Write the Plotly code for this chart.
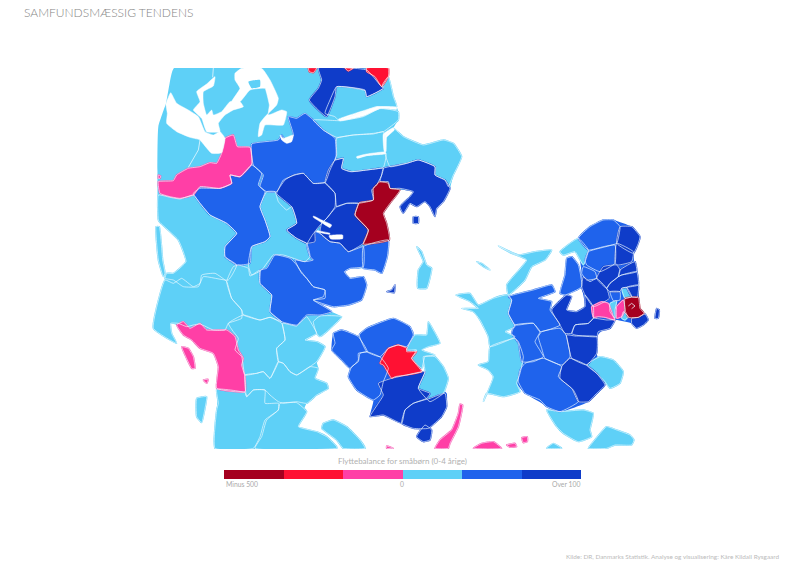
import plotly.graph_objects as go

# Map outlines. Each group is in map units of one sheet.
SHEET_ORIGINS = {"north": (150, 60), "south": (150, 240), "east": (450, 210)}

# Whole land masses, painted first
JUTLAND_LAND = [[(72,24),(715,24),(715,50),(730,110),(745,155),(745,180),(730,205),(760,230),(820,255),(880,240),(910,250),(935,290),(910,345),(900,385),(880,425),(860,445),(855,470),(840,440),(825,425),(800,440),(780,430),(760,460),(750,440),(780,410),(790,395),(750,390),(720,430),(700,460),(718,540),(715,540),(712,590),(695,640),(675,630),(640,625),(600,625),(583,635),(600,655),(640,650),(650,675),(635,720),(595,735),(550,740),(490,720),(545,755),(575,770),(530,815),(500,820),(465,840),(500,845),(525,860),(500,905),(505,925),(495,955),(530,970),(535,985),(500,1005),(470,1030),(445,1100),(500,1115),(560,1160),(560,1165),(195,1165),(200,1050),(205,990),(200,985),(205,920),(190,880),(150,865),(125,840),(100,825),(80,795),(62,790),(65,820),(80,850),(10,805),(45,660),(50,640),(70,640),(108,605),(85,540),(30,488),(25,480),(25,200),(48,130),(58,75)]]
FUNEN_LAND = [[(550,280),(575,270),(625,290),(650,265),(730,235),(790,275),(770,325),(800,335),(815,395),(890,460),(890,500),(875,530),(835,565),(790,565),(755,550),(700,525),(660,530),(670,480),(620,450),(595,410),(600,385),(575,360),(545,330)]]
ZEALAND_LAND = [[(395,190),(385,85),(420,50),(460,30),(490,30),(545,50),(570,80),(550,130),(565,225),(570,295),(595,330),(560,355),(545,340),(495,330),(440,380),(440,430),(465,525),(415,575),(330,605),(225,550),(200,520),(220,440),(195,350),(175,310),(185,270),(250,240),(305,225),(315,245),(265,265),(305,275),(300,300),(350,255),(365,260),(350,300),(380,305),(405,290),(395,230)]]

# Fjords and lakes, cut out of the land
WATER_NORTH = [
    [(48,132),(62,98),(80,130),(115,150),(145,170),(165,215),(190,225),(210,215),(225,235),(215,278),(185,280),(150,240),(145,238),(120,232),(80,215),(50,190),(52,160)],
    [(130,150),(150,125),(140,95),(170,72),(195,50),(190,78),(160,95),(160,130),(170,165),(185,150),(190,165),(215,155),(240,125),(270,125),(280,140),(250,150),(225,165),(205,190),(210,215),(170,215),(155,175)],
    [(255,40),(275,25),(335,25),(360,60),(385,115),(380,135),(345,170),(330,190),(325,230),(335,225),(345,195),(400,195),(410,155),(395,150),(355,165),(358,135),(350,100),(345,85),(300,90),(270,125),(245,125),(270,85),(255,60)],
    [(390,225),(400,235),(430,225),(425,245),(410,250),(395,240)],
    [(565,178),(640,152),(680,140),(740,142),(740,148),(690,146),(640,168),(570,183)],
    [(620,290),(650,282),(705,276),(708,281),(650,287),(622,295)],
    [(700,222),(730,203),(733,210),(710,232),(708,275),(703,275)],
    [(490,468),(515,480),(545,495),(540,503),(515,488),(490,472)],
    [(537,527),(578,525),(578,536),(542,537)],
    [(500,512),(540,520),(540,523),(500,515)],
]
ISLET_NORTH = [[(295,65),(330,60),(330,80),(305,85)]]
INNER_BORDERS = [[(150,240),(145,270),(115,322)], [(190,24),(188,52)]]

LIGHT_NORTH = [
    [(715,50),(730,110),(740,140),(680,140),(640,155),(600,170),(565,180),(555,170),(525,160),(540,120),(560,80),(645,92),(650,110),(700,85),(697,75)],
    [(570,182),(640,170),(690,145),(745,155),(745,180),(700,215),(670,220),(610,225),(560,232),(520,210),(490,180)],
    [(560,235),(610,225),(670,222),(700,215),(705,275),(650,285),(620,292),(708,280),(700,322),(650,330),(600,335),(575,325),(580,295),(555,300),(560,285)],
    [(730,205),(760,230),(820,255),(880,240),(910,250),(935,290),(910,345),(895,380),(885,360),(855,345),(855,320),(805,300),(770,310),(720,320),(705,280),(705,230)],
    [(25,405),(60,412),(90,417),(130,405),(150,430),(180,465),(230,490),(260,520),(225,560),(225,590),(260,615),(235,660),(160,650),(145,680),(100,680),(70,660),(45,655),(50,640),(70,640),(108,605),(85,540),(30,488),(25,480)],
    [(18,500),(28,500),(38,600),(45,640),(40,650),(25,600)],
    [(375,395),(385,425),(410,450),(425,440),(440,490),(410,510),(440,535),(470,550),(480,590),(465,605),(400,585),(370,585),(335,630),(305,645),(295,615),(305,560),(345,545),(360,530),(345,480),(330,440),(350,395)],
]
LIGHT_SOUTH = [
    [(230,125),(245,175),(275,210),(275,235),(235,250),(225,270),(190,270),(150,252),(130,255),(110,260),(85,250),(62,250),(65,280),(80,310),(10,265),(45,120),(70,130),(95,115),(130,140),(150,130),(155,105),(195,100)],
    [(230,125),(250,80),(265,75),(295,85),(300,108),(330,90),(330,130),(365,165),(360,215),(395,245),(360,232),(330,240),(280,225),(275,210),(245,175)],
    [(235,250),(280,225),(330,240),(360,232),(395,250),(405,300),(380,325),(385,365),(360,415),(340,395),(320,400),(285,405),(275,350),(255,330),(265,295),(250,275)],
    [(398,250),(440,258),(470,230),(490,260),(500,280),(465,300),(500,305),(525,320),(500,365),(480,380),(440,405),(420,395),(400,370),(385,365),(380,325),(405,300)],
    [(490,245),(510,228),(575,230),(530,275),(510,290),(500,280)],
    [(285,405),(320,400),(340,395),(360,415),(385,365),(400,370),(420,395),(440,405),(480,380),(505,385),(495,415),(530,430),(535,445),(500,465),(470,490),(440,485),(400,490),(385,485),(360,465),(345,450),(310,450),(290,470)],
    [(140,475),(170,470),(165,505),(155,548),(140,530)],
    [(200,448),(285,458),(290,470),(310,450),(345,450),(345,490),(385,490),(385,510),(345,540),(330,590),(310,625),(195,625),(200,510),(205,490)],
    [(390,490),(440,488),(470,515),(445,560),(500,575),(530,590),(560,620),(560,625),(315,625),(335,590),(350,540),(385,510)],
    [(520,550),(550,540),(590,560),(630,600),(645,625),(580,625),(560,600),(515,565)],
    [(835,245),(850,270),(870,310),(835,320),(815,330),(855,345),(825,350),(815,385),(785,355),(800,330),(770,330),(795,285),(830,285)],
    [(855,350),(880,380),(895,415),(880,460),(840,485),(805,445),(825,395),(820,350)],
    [(800,20),(815,35),(830,75),(845,85),(830,145),(803,145),(805,90),(820,65)],
]
LIGHT_EAST = [
    [(18,255),(60,250),(85,285),(130,265),(165,255),(175,255),(185,270),(175,310),(195,350),(165,365),(195,380),(120,410),(115,380),(90,330),(70,305),(35,295),(85,295),(60,275)],
    [(145,108),(205,135),(255,125),(305,120),(285,150),(245,170),(225,210),(175,255),(170,225),(185,205),(230,150),(185,130)],
    [(80,155),(95,160),(120,180),(100,170)],
    [(330,125),(385,85),(415,120),(400,165),(375,125),(340,135)],
    [(120,410),(195,385),(205,395),(220,440),(210,490),(200,520),(210,545),(160,560),(110,550),(100,575),(130,500),(115,480),(85,465),(115,455)],
    [(410,465),(450,440),(490,450),(520,485),(510,520),(480,535),(465,515),(440,490)],
    [(290,600),(330,605),(400,600),(430,610),(420,660),(425,680),(385,695),(340,670),(320,650)],
    [(415,715),(430,695),(470,650),(500,660),(540,675),(552,690),(545,705),(495,705),(470,715)],
    [(290,715),(310,700),(335,715)],
    [(480,280),(500,272),(495,300),(495,325),(480,305)],
    [(520,305),(535,320),(525,330),(515,325)],
    [(515,235),(530,232),(545,260),(525,265)],
]

MEDIUM_NORTH = [
    [(305,252),(385,240),(395,225),(410,245),(430,225),(415,170),(440,175),(465,160),(490,180),(520,210),(555,235),(558,290),(540,330),(525,368),(490,370),(460,340),(435,345),(400,360),(380,395),(350,395),(330,380),(340,345),(310,315)],
    [(130,400),(150,385),(210,385),(245,370),(240,345),(270,350),(305,315),(335,340),(325,375),(345,395),(330,440),(345,480),(360,530),(345,545),(305,560),(300,610),(260,615),(225,590),(225,560),(260,520),(230,490),(180,465),(150,430)],
]
MEDIUM_SOUTH = [
    [(470,15),(495,-25),(510,-20),(540,5),(570,10),(595,35),(640,20),(640,80),(600,85),(583,95),(600,115),(640,110),(650,135),(635,180),(595,195),(550,200),(490,180),(520,170),(525,150),(490,140),(470,115),(450,90),(435,60),(465,65),(490,60),(480,50)],
    [(640,20),(715,0),(712,50),(695,100),(675,90),(640,85)],
    [(375,45),(420,55),(440,75),(455,100),(470,115),(490,140),(525,150),(525,175),(490,180),(545,215),(510,225),(470,225),(440,255),(395,245),(360,215),(365,165),(330,130),(330,90),(350,85)],
    [(628,285),(650,265),(730,235),(780,260),(790,285),(770,320),(745,315),(715,325),(690,350),(650,335)],
    [(550,280),(575,270),(625,290),(652,335),(625,340),(625,360),(600,385),(575,360),(545,330),(555,310)],
    [(630,340),(650,335),(692,352),(715,385),(700,425),(690,465),(670,480),(620,450),(595,410),(605,380),(625,365)],
]
MEDIUM_EAST = [
    [(175,260),(250,240),(305,225),(315,245),(265,265),(305,275),(300,300),(330,345),(270,365),(250,340),(195,345),(175,310),(185,270)],
    [(350,145),(365,140),(385,165),(395,230),(345,255),(330,250),(345,195)],
    [(385,85),(420,50),(460,30),(490,30),(510,50),(500,100),(460,110),(415,120)],
    [(415,125),(460,112),(495,105),(495,160),(450,185),(410,165),(405,150)],
    [(400,170),(435,185),(440,205),(410,210),(395,190)],
    [(265,380),(275,365),(330,355),(348,375),(360,440),(335,465),(285,445),(275,415)],
    [(195,345),(250,340),(270,365),(255,395),(280,440),(250,455),(215,455),(205,400),(185,370)],
    [(210,480),(225,460),(280,445),(335,470),(325,500),(370,540),(385,575),(330,605),(290,590),(270,570),(225,550),(205,515)],
    [(480,245),(510,245),(510,270),(490,272)],
]

DARK_NORTH = [
    [(380,400),(405,360),(430,345),(460,340),(490,370),(525,368),(555,400),(555,440),(530,475),(515,490),(495,515),(495,545),(470,550),(440,535),(410,510),(440,490),(425,440)],
    [(535,330),(555,300),(580,295),(575,325),(605,335),(650,330),(700,325),(695,345),(680,375),(665,390),(670,420),(625,430),(590,430),(560,440),(555,400),(525,368)],
    [(560,440),(590,430),(625,430),(615,465),(655,510),(640,550),(595,575),(570,550),(540,545),(510,520),(515,490),(530,475)],
    [(700,325),(770,310),(805,300),(855,320),(855,345),(885,360),(900,385),(880,425),(860,445),(855,470),(840,440),(825,425),(800,440),(780,430),(760,460),(750,440),(780,410),(790,395),(750,385),(720,385),(715,365),(690,365),(695,345)],
    [(790,470),(805,470),(805,490),(790,490)],
    [(505,24),(650,30),(690,75),(700,85),(650,110),(645,90),(560,80),(555,110),(530,170),(510,155),(478,120),(505,85),(515,60)],
]
DARK_SOUTH = [
    [(825,395),(805,445),(840,460),(830,475),(790,490),(765,510),(755,550),(700,525),(660,530),(685,490),(700,465),(685,430),(725,415),(770,405)],
    [(840,475),(885,460),(890,500),(875,530),(835,565),(790,565),(755,550),(765,510),(790,490)],
    [(800,590),(825,555),(845,570),(840,600),(820,605)],
    [(710,155),(725,150),(735,135),(733,158)],
]
DARK_EAST = [
    [(305,300),(350,255),(365,260),(350,300),(380,305),(405,290),(405,255),(430,290),(430,325),(415,340),(375,345),(365,370),(345,370),(330,345)],
    [(405,255),(395,230),(400,200),(420,215),(440,205),(470,235),(478,265),(430,290)],
    [(375,345),(415,340),(430,325),(470,330),(495,330),(480,355),(445,365),(440,380),(375,375),(365,370)],
    [(440,205),(460,170),(500,165),(510,180),(505,200),(480,220),(470,235)],
    [(505,200),(510,180),(555,155),(560,185),(515,195)],
    [(480,220),(505,200),(515,195),(560,185),(565,225),(530,232),(515,235),(510,245),(480,245),(470,235)],
    [(530,232),(565,225),(562,262),(545,260)],
    [(510,50),(545,50),(570,80),(565,100),(550,130),(500,100)],
    [(500,100),(550,125),(545,155),(505,165),(495,160)],
    [(350,375),(375,378),(440,380),(440,430),(410,465),(365,445),(358,420)],
    [(335,470),(360,445),(410,465),(440,490),(465,525),(440,550),(415,575),(385,575),(365,535),(330,505)],
    [(545,325),(565,322),(585,312),(595,330),(580,345),(560,355),(545,340)],
    [(620,295),(628,300),(625,325),(615,325)],
]

PINK_NORTH = [
    [(25,365),(70,362),(80,345),(115,325),(150,320),(180,308),(200,310),(215,280),(225,235),(250,225),(262,260),(300,262),(305,312),(270,350),(240,345),(245,370),(210,385),(150,380),(130,405),(90,415),(60,410),(30,400)],
    [(25,345),(32,348),(30,355),(25,355)],
]
PINK_SOUTH = [
    [(80,255),(100,245),(120,265),(150,250),(170,270),(230,270),(255,290),(265,330),(280,355),(275,375),(285,410),(285,455),(200,445),(205,380),(190,340),(150,325),(125,300),(100,285)],
    [(95,320),(115,325),(130,350),(135,385),(125,385),(105,345)],
    [(160,420),(175,418),(170,430)],
    [(930,492),(938,495),(925,560),(900,610),(895,625),(855,625),(870,600),(905,570),(925,520)],
    [(710,618),(730,625),(710,625)],
]
PINK_EAST = [
    [(70,715),(95,700),(130,695),(155,715)],
    [(170,705),(195,700),(200,710),(180,712)],
    [(215,683),(232,680),(232,695),(220,698)],
    [(425,290),(455,275),(475,280),(490,320),(495,330),(465,322),(445,320),(430,322)],
    [(500,290),(520,270),(525,300),(515,320),(500,325)],
]

RED_NORTH = [
    [(650,24),(715,24),(715,50),(695,80),(675,50),(650,35)],
    [(475,24),(500,24),(490,38),(478,35)],
    [(585,24),(610,24),(595,33)],
]
RED_SOUTH = [
    [(715,325),(745,315),(770,325),(770,335),(800,335),(785,355),(815,395),(770,405),(735,410),(725,415),(700,375),(690,370)],
]

DEEP_NORTH = [
    [(670,385),(690,365),(715,370),(720,385),(750,390),(720,430),(700,460),(710,490),(718,540),(640,552),(655,510),(615,465),(628,428),(670,420)],
]
DEEP_EAST = [
    [(525,265),(565,262),(570,295),(582,310),(565,322),(535,322),(525,300)],
]
RING_EAST = [[(535,288),(545,280),(555,288),(545,296)]]

CLASS_NAMES = ["Minus 500", "-200", "-1", "0", "50", "Over 100"]
CLASS_COLORS = ["#a5001f", "#ff1133", "#ff3fa6", "#5ed0f7", "#1f63ec", "#0f3cc9"]
CLASS_GROUPS = [
    {"north": DEEP_NORTH, "east": DEEP_EAST},
    {"north": RED_NORTH, "south": RED_SOUTH},
    {"north": PINK_NORTH, "south": PINK_SOUTH, "east": PINK_EAST},
    {"north": LIGHT_NORTH, "south": LIGHT_SOUTH, "east": LIGHT_EAST},
    {"north": MEDIUM_NORTH, "south": MEDIUM_SOUTH, "east": MEDIUM_EAST},
    {"north": DARK_NORTH, "south": DARK_SOUTH, "east": DARK_EAST},
]
DRAW_ORDER = [3, 4, 5, 2, 1, 0]

TITLE = "SAMFUNDSMÆSSIG TENDENS"
LEGEND_TITLE = "Flyttebalance for småbørn (0-4 årige)"
LEGEND_LOW, LEGEND_MID, LEGEND_HIGH = "Minus 500", "0", "Over 100"
SOURCE = "Kilde: DR, Danmarks Statistik. Analyse og visualisering: Kåre Kildall Rysgaard"
BAR_UNITS = [1, 1, 1, 1, 1, 1]

W, H = 804, 569
MAP_TOP, MAP_BOTTOM = 68, 449
BORDER = "rgba(240,250,255,0.95)"
fig = go.Figure()

def outlines(groups, close=True):
    xs, ys = [], []
    for sheet, polys in groups.items():
        ox, oy = SHEET_ORIGINS[sheet]
        for poly in polys:
            pts = poly + [poly[0]] if close else poly
            xs += [ox + p[0] / 3 for p in pts] + [None]
            ys += [oy + p[1] / 3 for p in pts] + [None]
    return xs, ys

def area(groups, color, stroke=None, width=0):
    xs, ys = outlines(groups)
    fig.add_trace(go.Scatter(x=xs, y=ys, mode="lines", fill="toself", fillcolor=color,
                             line=dict(color=stroke or color, width=width, shape="spline", smoothing=0.4),
                             hoverinfo="skip", showlegend=False))

area({"north": JUTLAND_LAND}, CLASS_COLORS[3])
area({"south": FUNEN_LAND}, CLASS_COLORS[4])
area({"east": ZEALAND_LAND}, CLASS_COLORS[4])
for idx in DRAW_ORDER:
    area(CLASS_GROUPS[idx], CLASS_COLORS[idx], width=1.4)
area({"north": WATER_NORTH}, "white", width=0.5)
area({"north": ISLET_NORTH}, CLASS_COLORS[3])
for idx in DRAW_ORDER:
    xs, ys = outlines(CLASS_GROUPS[idx])
    fig.add_trace(go.Scatter(x=xs, y=ys, mode="lines",
                             line=dict(color=BORDER, width=0.7, shape="spline", smoothing=0.4),
                             hoverinfo="skip", showlegend=False))
xs, ys = outlines({"north": INNER_BORDERS, "east": RING_EAST}, close=False)
fig.add_trace(go.Scatter(x=xs, y=ys, mode="lines", line=dict(color=BORDER, width=0.8),
                         hoverinfo="skip", showlegend=False))

for name, color, unit in zip(CLASS_NAMES, CLASS_COLORS, BAR_UNITS):
    fig.add_trace(go.Bar(x=[unit], y=[0], orientation="h", width=1,
                         marker=dict(color=color, line=dict(width=0)),
                         name=name, showlegend=False, hoverinfo="skip",
                         xaxis="x2", yaxis="y2"))

hidden = dict(visible=False, fixedrange=True)
fig.update_layout(
    width=W, height=H, margin=dict(l=0, r=0, t=0, b=0),
    paper_bgcolor="white", plot_bgcolor="white", barmode="stack",
    xaxis=dict(range=[0, W], domain=[0, 1], **hidden),
    yaxis=dict(range=[MAP_BOTTOM, MAP_TOP], domain=[1 - MAP_BOTTOM / H, 1 - MAP_TOP / H], **hidden),
    xaxis2=dict(range=[0, 6], domain=[224 / W, 581 / W], anchor="y2", **hidden),
    yaxis2=dict(range=[-0.5, 0.5], domain=[1 - 479 / H, 1 - 470 / H], anchor="x2", **hidden),
)

def label(x, y, text, size, color, anchor, weight=400):
    fig.add_annotation(x=x / W, y=1 - y / H, xref="paper", yref="paper", text=text, showarrow=False,
                       xanchor=anchor, yanchor="middle", borderpad=0,
                       font=dict(family="Lato, Roboto, sans-serif", size=size, color=color, weight=weight))

label(23, 13, TITLE, 12, "#858585", "left", 300)
label(402, 461, LEGEND_TITLE, 8, "#b0b0b0", "center")
label(225, 484, LEGEND_LOW, 6.8, "#aaaaaa", "left")
label(402, 484, LEGEND_MID, 6.8, "#aaaaaa", "center")
label(581, 484, LEGEND_HIGH, 6.8, "#aaaaaa", "right")
label(780, 556, SOURCE, 6.4, "#bbbbbb", "right")

fig.write_html("out.html", config={"displayModeBar": False},
               post_script="document.body.style.margin='0';document.documentElement.style.margin='0';")
